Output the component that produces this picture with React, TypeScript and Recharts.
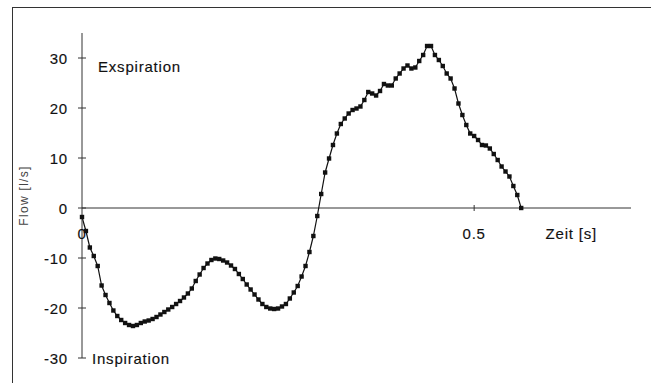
import { LineChart, Line, XAxis, YAxis, ReferenceLine, ReferenceDot } from 'recharts'

// sample times [s], 5 ms apart
const times = [
  0, 0.005, 0.01, 0.015, 0.02, 0.025, 0.03, 0.035, 0.04, 0.045,
  0.05, 0.055, 0.06, 0.065, 0.07, 0.075, 0.08, 0.085, 0.09, 0.095,
  0.1, 0.105, 0.11, 0.115, 0.12, 0.125, 0.13, 0.135, 0.14, 0.145,
  0.15, 0.155, 0.16, 0.165, 0.17, 0.175, 0.18, 0.185, 0.19, 0.195,
  0.2, 0.205, 0.21, 0.215, 0.22, 0.225, 0.23, 0.235, 0.24, 0.245,
  0.25, 0.255, 0.26, 0.265, 0.27, 0.275, 0.28, 0.285, 0.29, 0.295,
  0.3, 0.305, 0.31, 0.315, 0.32, 0.325, 0.33, 0.335, 0.34, 0.345,
  0.35, 0.355, 0.36, 0.365, 0.37, 0.375, 0.38, 0.385, 0.39, 0.395,
  0.4, 0.405, 0.41, 0.415, 0.42, 0.425, 0.43, 0.435, 0.44, 0.445,
  0.45, 0.455, 0.46, 0.465, 0.47, 0.475, 0.48, 0.485, 0.49, 0.495,
  0.5, 0.505, 0.51, 0.515, 0.52, 0.525, 0.53, 0.535, 0.54, 0.545,
  0.55, 0.555, 0.56,
]

// flow [l/s]
const flow = [
  -1.8, -4.6, -7.9, -9.6, -11.6, -15.5, -17.4, -19.0, -20.5, -21.6,
  -22.4, -23.0, -23.4, -23.6, -23.4, -23.0, -22.7, -22.5, -22.2, -21.8,
  -21.3, -20.8, -20.3, -19.8, -19.2, -18.6, -17.9, -17.1, -16.1, -14.6,
  -13.3, -12.0, -11.1, -10.4, -10.1, -10.2, -10.5, -10.9, -11.5, -12.2,
  -13.2, -14.2, -15.3, -16.3, -17.3, -18.3, -19.2, -19.8, -20.1, -20.2,
  -20.1, -19.7, -19.2, -18.1, -16.9, -15.6, -13.7, -11.6, -8.8, -5.6,
  -1.6, 2.8, 7.1, 9.9, 12.6, 14.9, 16.8, 17.9, 18.9, 19.6,
  19.9, 20.3, 21.6, 23.2, 22.9, 22.5, 23.4, 24.8, 24.5, 24.5,
  25.9, 26.9, 27.9, 28.5, 27.9, 28.1, 29.4, 30.6, 32.4, 32.4,
  30.6, 29.6, 28.4, 26.9, 25.9, 23.9, 20.9, 18.6, 16.6, 14.9,
  14.4, 13.6, 12.6, 12.5, 11.9, 10.8, 9.6, 8.3, 7.3, 6.3,
  4.4, 2.6, 0.0,
]

const yTicks = [-30, -20, -10, 0, 10, 20, 30]
const xTicks = [0, 0.5]
const xTickLabels = ['0', '0.5']

const data = times.map((t, i) => ({ t, flow: flow[i] }))

const FONT = '"Liberation Sans", Arial, Helvetica, sans-serif'
const INK = '#111'

const SquareDot = (props: any) => {
  const { cx, cy } = props
  if (cx == null || cy == null) return null
  return <rect x={cx - 2.2} y={cy - 2.2} width={4.4} height={4.4} fill={INK} />
}

// scanned print looks a little heavier than plain regular
const textStyle = { fontFamily: FONT, fontSize: 15, letterSpacing: 0.8, fill: INK, stroke: INK, strokeWidth: 0.15 }

const YTick = (props: any) => {
  const { x, y, payload } = props
  const v = payload.value
  return (
    <g>
      <line x1={x - 4} x2={x + 4} y1={y} y2={y} stroke="#333" />
      <text x={x - 14} y={y + 5.5} textAnchor="end" style={textStyle}>{v}</text>
      {v === 30 && <text x={x + 16} y={y + 13.5} style={textStyle}>Exspiration</text>}
      {v === -30 && <text x={x + 10} y={y + 5.5} style={textStyle}>Inspiration</text>}
    </g>
  )
}

const YTitle = (props: any) => {
  const vb = props.viewBox || {}
  const cx = vb.x + 24
  const cy = vb.y + vb.height / 2
  return (
    <text
      x={cx}
      y={cy}
      transform={`rotate(-90, ${cx}, ${cy})`}
      textAnchor="middle"
      dominantBaseline="central"
      style={{ fontFamily: FONT, fontSize: 12, letterSpacing: 1.3, fill: '#444' }}
    >
      Flow [l/s]
    </text>
  )
}

const XTitle = (props: any) => {
  const vb = props.viewBox || {}
  return (
    <text x={vb.x + vb.width - 34} y={vb.y + 31} textAnchor="end" style={textStyle}>
      Zeit [s]
    </text>
  )
}

const makeXTick = (label: string, showLine: boolean) => (props: any) => {
  const { cx, cy } = props
  return (
    <g>
      {showLine && <line x1={cx} x2={cx} y1={cy - 3} y2={cy + 3} stroke="#333" />}
      <text x={cx} y={cy + 31} textAnchor="middle" style={textStyle}>{label}</text>
    </g>
  )
}

export default function App() {
  return (
    <div style={{ position: 'absolute', left: 0, top: 0, width: 651, height: 383, background: '#fff' }}>
      <div
        style={{
          position: 'absolute',
          left: 12,
          top: 7,
          right: 0,
          bottom: 0,
          borderTop: '1.5px solid #333',
          borderLeft: '1.5px solid #333',
        }}
      />
      <div style={{ position: 'absolute', left: 0, top: 0 }}>
        <LineChart width={651} height={383} data={data} margin={{ top: 33, right: 20, bottom: 25, left: 0 }}>
          <XAxis dataKey="t" type="number" domain={[0, 0.7]} hide />
          <YAxis
            type="number"
            domain={[-30, 35]}
            ticks={yTicks}
            width={82}
            axisLine={{ stroke: '#333' }}
            tickLine={false}
            tickSize={0}
            tickMargin={0}
            tick={<YTick />}
            label={<YTitle />}
          />
          <ReferenceLine y={0} stroke="#333" strokeWidth={1} label={<XTitle />} />
          {xTicks.map((t, i) => (
            <ReferenceDot
              key={t}
              x={t}
              y={0}
              r={3}
              shape={makeXTick(xTickLabels[i], i > 0)}
            />
          ))}
          <Line
            type="linear"
            dataKey="flow"
            stroke={INK}
            strokeWidth={1.2}
            dot={<SquareDot />}
            activeDot={false}
            isAnimationActive={false}
          />
        </LineChart>
      </div>
    </div>
  )
}
